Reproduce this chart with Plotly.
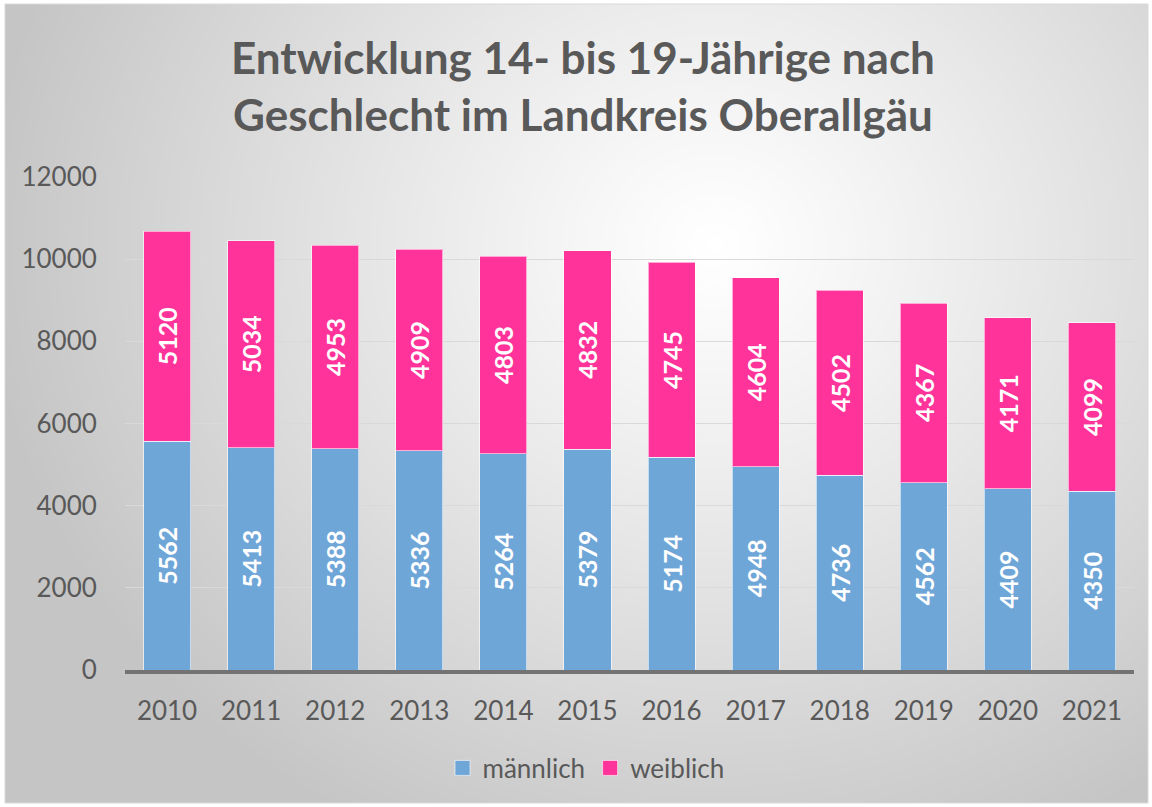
import base64, math, struct, zlib
import plotly.graph_objects as go

years = ["2010", "2011", "2012", "2013", "2014", "2015", "2016", "2017", "2018", "2019", "2020", "2021"]
maennlich = [5562, 5413, 5388, 5336, 5264, 5379, 5174, 4948, 4736, 4562, 4409, 4350]
weiblich = [5120, 5034, 4953, 4909, 4803, 4832, 4745, 4604, 4502, 4367, 4171, 4099]
y_ticks = [0, 2000, 4000, 6000, 8000, 10000, 12000]
y_ticktext = [str(v) for v in y_ticks]

W, H = 1152, 807
ML, MR, MT, MB = 125, 18, 177, 137
PW, PH = W - ML - MR, H - MT - MB

def px_x(px):
    return (px - ML) / PW

def px_y(py):
    return (H - MB - py) / PH

# radial gradient background as PNG (grayscale)
def make_gradient(w, h):
    cx, cy = 0.62 * w, 0.30 * h
    rx, ry = 0.64 * w, 0.83 * h
    rows = []
    for j in range(h):
        row = bytearray([0])
        for i in range(w):
            d = math.sqrt(((i - cx) / rx) ** 2 + ((j - cy) / ry) ** 2)
            d = min(d, 1.0)
            v = int(round(255 - 58 * d ** 1.1))
            row.append(v)
        rows.append(bytes(row))
    raw = b"".join(rows)
    def chunk(tag, data):
        c = struct.pack(">I", len(data)) + tag + data
        return c + struct.pack(">I", zlib.crc32(tag + data) & 0xffffffff)
    png = b"\x89PNG\r\n\x1a\n"
    png += chunk(b"IHDR", struct.pack(">IIBBBBB", w, h, 8, 0, 0, 0, 0))
    png += chunk(b"IDAT", zlib.compress(raw, 9))
    png += chunk(b"IEND", b"")
    return "data:image/png;base64," + base64.b64encode(png).decode()

bg = make_gradient(572, 400)

FONT = "Lato"
GRAY = "#595959"
BLUE = "#6fa6d8"
PINK = "#ff3399"
BAR_LINE = dict(color="rgba(255,255,255,0.6)", width=1)
LABEL_FONT = dict(family=FONT, size=25, color="white", weight="bold")

fig = go.Figure()
fig.add_trace(go.Bar(
    x=years, y=maennlich, name="männlich", showlegend=False,
    marker=dict(color=BLUE, line=BAR_LINE),
    text=maennlich, textposition="inside", textangle=-90, insidetextanchor="middle",
    textfont=LABEL_FONT,
))
fig.add_trace(go.Bar(
    x=years, y=weiblich, name="weiblich", showlegend=False,
    marker=dict(color=PINK, line=BAR_LINE),
    text=weiblich, textposition="inside", textangle=-90, insidetextanchor="middle",
    textfont=LABEL_FONT,
))
# legend entries with larger square symbols
for name, col in [("männlich", BLUE), ("weiblich", PINK)]:
    fig.add_trace(go.Scatter(
        x=[None], y=[None], mode="markers", name=name,
        marker=dict(symbol="square", size=15, color=col,
                    line=dict(color="rgba(255,255,255,0.6)", width=1)),
    ))

x0, x1 = px_x(5), px_x(1148)
y0, y1 = px_y(803), px_y(4)

fig.update_layout(
    width=W, height=H,
    margin=dict(l=ML, r=MR, t=MT, b=MB, autoexpand=False),
    barmode="stack", bargap=0.44,
    paper_bgcolor="white", plot_bgcolor="rgba(0,0,0,0)",
    font=dict(family=FONT, size=26, color=GRAY),
    uniformtext=dict(mode="show", minsize=10),
    images=[dict(source=bg, xref="paper", yref="paper", x=x0, y=y1,
                 sizex=x1 - x0, sizey=y1 - y0, sizing="stretch",
                 xanchor="left", yanchor="top", layer="below")],
    shapes=[dict(type="rect", xref="paper", yref="paper", x0=x0, x1=x1, y0=y0, y1=y1,
                 line=dict(color="#d9d9d9", width=1), layer="below")],
    annotations=[dict(
        text="Entwicklung 14- bis 19-Jährige nach<br>Geschlecht im Landkreis Oberallgäu",
        xref="paper", yref="paper", x=px_x(583), y=px_y(85),
        xanchor="center", yanchor="middle", showarrow=False,
        font=dict(family=FONT, size=44, color=GRAY, weight="bold"),
        align="center",
    )],
    xaxis=dict(
        showgrid=False, showline=True, linecolor="#737373", linewidth=3.5,
        ticks="outside", ticklen=15, tickcolor="rgba(0,0,0,0)",
        tickfont=dict(family=FONT, size=26, color=GRAY),
    ),
    yaxis=dict(
        range=[0, 12000], tickvals=y_ticks, ticktext=y_ticktext,
        showgrid=True, gridcolor="#d9d9d9", gridwidth=1.3,
        zeroline=False, showline=False,
        ticks="outside", ticklen=22, tickcolor="rgba(0,0,0,0)",
        tickfont=dict(family=FONT, size=26, color=GRAY),
    ),
    legend=dict(
        orientation="h", xref="paper", x=px_x(586), xanchor="center",
        yref="paper", y=px_y(768), yanchor="middle",
        font=dict(family=FONT, size=26, color=GRAY),
        bgcolor="rgba(0,0,0,0)", itemsizing="trace", traceorder="normal",
    ),
)

fig.write_html("out.html", config={"displayModeBar": False},
               post_script="document.body.style.margin='0';")
